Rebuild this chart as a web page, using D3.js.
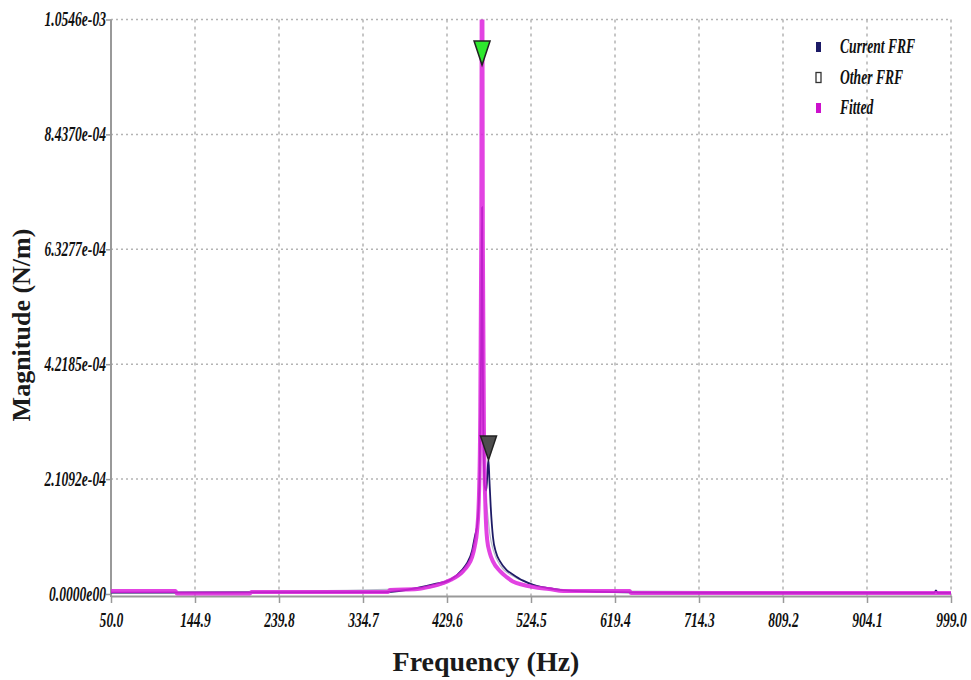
<!DOCTYPE html>
<html>
<head>
<meta charset="utf-8">
<script src="https://cdn.jsdelivr.net/npm/d3@7"></script>
<style>
body{margin:0;background:#fff;}
svg{display:block;}
</style>
</head>
<body>
<svg id="chart" width="971" height="680"></svg>
<script>
(function(){
"use strict";

// axis ticks as shown by the analyser
var xTicks = [50.0, 144.9, 239.8, 334.7, 429.6, 524.5, 619.4, 714.3, 809.2, 904.1, 999.0];
var xTickLabels = ["50.0","144.9","239.8","334.7","429.6","524.5","619.4","714.3","809.2","904.1","999.0"];
var yTicks = [0, 2.1092e-4, 4.2185e-4, 6.3277e-4, 8.4370e-4, 1.0546e-3];
var yTickLabels = ["0.0000e00","2.1092e-04","4.2185e-04","6.3277e-04","8.4370e-04","1.0546e-03"];

// Fitted (magenta)
var fitFreq = [50, 123, 124.5, 207, 208.5, 363, 365, 396, 410, 425, 434, 448, 453, 458, 461, 463.5, 465.5, 467, 468.3, 469.2, 470.1, 471.5, 473, 475, 478, 481.5, 489.5, 497, 504, 515, 527, 545, 561, 636, 637.5, 999];
var fitMag = [5.5e-6, 5.5e-6, 1.0e-6, 1.0e-6, 3.7e-6, 3.7e-6, 7.3e-6, 9.0e-6, 1.3e-5, 2.0e-5, 2.6e-5, 4.2e-5, 5.2e-5, 6.8e-5, 8.8e-5, 1.15e-4, 1.7e-4, 3.0e-4, 6.5e-4, 1.40e-3, 6.5e-4, 2.8e-4, 1.6e-4, 9.9e-5, 7.5e-5, 6.0e-5, 4.2e-5, 3.1e-5, 2.3e-5, 1.7e-5, 1.3e-5, 9.0e-6, 5.5e-6, 5.5e-6, 1.8e-6, 1.8e-6];

// Current FRF (navy)
var curFreq = [50, 360, 396, 415, 433, 447, 452, 458, 461, 464, 466.5, 468.2, 469.2, 470.2, 472, 474, 475.5, 476.5, 477.5, 479, 481.5, 485, 489.5, 497, 504, 515, 527, 543, 560, 600, 700, 980, 982, 984, 999];
var curMag = [2.5e-6, 3.5e-6, 1.1e-5, 1.8e-5, 2.6e-5, 4.5e-5, 5.6e-5, 8.0e-5, 1.05e-4, 1.3e-4, 2.2e-4, 4.5e-4, 7.1e-4, 4.0e-4, 2.0e-4, 1.9e-4, 2.3e-4, 2.46e-4, 2.1e-4, 1.6e-4, 1.05e-4, 7.6e-5, 6.0e-5, 4.4e-5, 3.6e-5, 2.5e-5, 1.7e-5, 1.1e-5, 7.0e-6, 4.0e-6, 2.0e-6, 2.0e-6, 6.5e-6, 2.0e-6, 2.0e-6];

// Other FRF (light grey)
var othFreq = [50, 400, 440, 455, 462, 466, 468.5, 469.5, 470.5, 472, 474, 476, 478, 482, 490, 505, 530, 570, 999];
var othMag = [2.0e-6, 1.0e-5, 3.0e-5, 6.0e-5, 1.0e-4, 1.9e-4, 3.6e-4, 3.9e-4, 3.0e-4, 2.0e-4, 1.7e-4, 1.4e-4, 1.1e-4, 8.0e-5, 5.2e-5, 3.2e-5, 1.6e-5, 6.0e-6, 2.0e-6];

// peak markers
var markerFreq = [469.2, 476.5];
var markerMag = [9.71e-4, 2.46e-4];
var markerFill = ["#2ee82e", "#4d4d4d"];

var legendNames = ["Current FRF", "Other FRF", "Fitted"];
var legendFill = ["#1c1a66", "#ffffff", "#cc11cc"];

var left = 111, right = 951, top = 19.5, zeroY = 594, axisY = 596;
var condense = 0.68;
var tickFont = "'Liberation Serif', serif";

var x = d3.scaleLinear().domain([50, 999]).range([left, right]);
var y = d3.scaleLinear().domain([0, 1.0546e-3]).range([zeroY, top]);

var svg = d3.select("#chart");

svg.append("defs").append("clipPath").attr("id","plotclip")
    .append("rect").attr("x",left).attr("y",top).attr("width",right-left).attr("height",axisY-top);

// grid
var grid = svg.append("g").attr("class","grid");
grid.selectAll("line.h").data(yTicks.slice(1)).enter().append("line")
    .attr("x1",left).attr("x2",right)
    .attr("y1",d=>y(d)).attr("y2",d=>y(d))
    .attr("stroke","#b4b4b4").attr("stroke-width",1.5).attr("stroke-dasharray","2,3");
grid.selectAll("line.v").data(xTicks.slice(1)).enter().append("line")
    .attr("x1",d=>x(d)).attr("x2",d=>x(d))
    .attr("y1",top).attr("y2",axisY)
    .attr("stroke","#b4b4b4").attr("stroke-width",1.5).attr("stroke-dasharray","3,4");

// axes
var xaxis = d3.axisBottom(x).tickValues(xTicks).tickSize(7).tickSizeOuter(0)
    .tickFormat((d,i)=>xTickLabels[i]);
var yaxis = d3.axisLeft(y).tickValues(yTicks).tickSize(5).tickSizeOuter(0)
    .tickFormat((d,i)=>yTickLabels[i]);

var gx = svg.append("g").attr("transform","translate(0,"+axisY+")").call(xaxis);
var gy = svg.append("g").attr("transform","translate("+left+",0)").call(yaxis);

gx.select(".domain").attr("stroke","#999").attr("stroke-width",2);
gy.select(".domain").remove();
gy.append("line").attr("x1",0).attr("x2",0).attr("y1",top).attr("y2",axisY+1)
    .attr("stroke","#999").attr("stroke-width",2);
gx.selectAll(".tick line").attr("stroke","#999").attr("stroke-width",1.5);
gy.selectAll(".tick line").attr("stroke","#999").attr("stroke-width",1.5);

gx.selectAll(".tick text")
    .attr("y",0).attr("dy","0.71em")
    .attr("transform","translate(0,17) scale("+condense+",1)")
    .style("font-family",tickFont).style("font-style","italic").style("font-weight","bold")
    .style("font-size","20px").attr("fill","#111");
gy.selectAll(".tick text")
    .attr("x",0).attr("dy","0.32em")
    .attr("transform","translate(-5,0) scale("+condense+",1)")
    .style("font-family",tickFont).style("font-style","italic").style("font-weight","bold")
    .style("font-size","20px").attr("fill","#111");

// curves
var plot = svg.append("g").attr("clip-path","url(#plotclip)");
var line = d3.line().curve(d3.curveMonotoneX).x(d=>x(d[0])).y(d=>y(d[1]));

plot.append("path").datum(d3.zip(othFreq, othMag))
    .attr("d",line).attr("fill","none")
    .attr("stroke","#b9bccb").attr("stroke-width",1.2);
plot.append("path").datum(d3.zip(curFreq, curMag))
    .attr("d",line).attr("fill","none")
    .attr("stroke","#1e1b66").attr("stroke-width",1.8);
plot.append("path").datum(d3.zip(fitFreq, fitMag))
    .attr("d",line).attr("fill","none")
    .attr("stroke","#dd22dd").attr("stroke-width",4).attr("stroke-opacity",0.85);

// markers (down triangles, tip at the value)
svg.selectAll("path.marker").data(d3.range(markerFreq.length)).enter().append("path")
    .attr("class","marker")
    .attr("d","M-8,-24L8,-24L0,0Z")
    .attr("transform",i=>"translate("+x(markerFreq[i])+","+y(markerMag[i])+")")
    .attr("fill",i=>markerFill[i]).attr("stroke","#222").attr("stroke-width",1.5);

// legend
var leg = svg.append("g").attr("transform","translate(816,42)");
var item = leg.selectAll("g").data(legendNames).enter().append("g")
    .attr("transform",(d,i)=>"translate(0,"+(i*30.5)+")");
item.append("rect").attr("x",0).attr("y",0).attr("width",5).attr("height",10)
    .attr("fill",(d,i)=>legendFill[i]).attr("stroke",(d,i)=>i==1?"#333":"none").attr("stroke-width",1.3);
item.append("text").text(d=>d)
    .attr("transform","translate(24,11) scale("+condense+",1)")
    .style("font-family",tickFont).style("font-style","italic").style("font-weight","bold")
    .style("font-size","20px").attr("fill","#111");

// titles
svg.append("text").text("Frequency (Hz)")
    .attr("x",486).attr("y",671).attr("text-anchor","middle")
    .style("font-family","'Liberation Serif', serif").style("font-weight","bold")
    .style("font-size","28px").attr("fill","#1a1a1a");
svg.append("text").text("Magnitude (N/m)")
    .attr("transform","translate(30,325) rotate(-90)").attr("text-anchor","middle")
    .style("font-family","'Liberation Serif', serif").style("font-weight","bold")
    .style("font-size","26px").attr("fill","#1a1a1a");

})();
</script>
</body>
</html>
